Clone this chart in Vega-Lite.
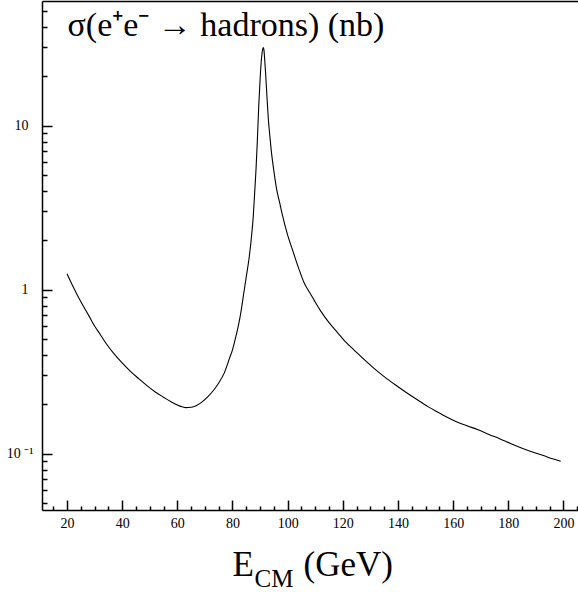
{
  "$schema": "https://vega.github.io/schema/vega-lite/v6.json",
  "width": 536,
  "height": 509,
  "autosize": {"type": "none"},
  "padding": {"left": 42, "top": 1, "right": 0, "bottom": 82},
  "background": "white",
  "config": {
    "font": "Liberation Serif",
    "view": {"stroke": null},
    "axis": {
      "grid": false,
      "domainColor": "black",
      "domainWidth": 1.5,
      "tickColor": "black",
      "tickWidth": 1.5,
      "labelFont": "Liberation Serif",
      "labelFontSize": 14,
      "labelColor": "black",
      "labelFlush": false,
      "labelOverlap": false,
      "titleFont": "Liberation Serif",
      "titleFontWeight": "normal",
      "titleColor": "black"
    }
  },
  "data": {
    "values": [
      {"E": 20, "s": 1.25}, {"E": 22, "s": 1.06}, {"E": 24, "s": 0.91}, {"E": 26, "s": 0.79},
      {"E": 28, "s": 0.69}, {"E": 30, "s": 0.6}, {"E": 32, "s": 0.535}, {"E": 34, "s": 0.475},
      {"E": 37, "s": 0.408}, {"E": 40, "s": 0.358}, {"E": 43, "s": 0.318}, {"E": 46, "s": 0.287},
      {"E": 49, "s": 0.26}, {"E": 52, "s": 0.238}, {"E": 55, "s": 0.221}, {"E": 58, "s": 0.206},
      {"E": 61, "s": 0.195}, {"E": 63, "s": 0.191}, {"E": 65, "s": 0.192}, {"E": 67, "s": 0.197},
      {"E": 69, "s": 0.207}, {"E": 71, "s": 0.222}, {"E": 73, "s": 0.242}, {"E": 75, "s": 0.27},
      {"E": 77, "s": 0.31}, {"E": 79, "s": 0.385}, {"E": 80, "s": 0.43}, {"E": 81, "s": 0.5},
      {"E": 82, "s": 0.59}, {"E": 83, "s": 0.72}, {"E": 84, "s": 0.93}, {"E": 85, "s": 1.2},
      {"E": 86, "s": 1.55}, {"E": 87, "s": 2.2}, {"E": 87.5, "s": 2.75}, {"E": 88, "s": 3.8},
      {"E": 88.5, "s": 5.3}, {"E": 89, "s": 8}, {"E": 89.5, "s": 13}, {"E": 90, "s": 19},
      {"E": 90.5, "s": 25.5}, {"E": 91, "s": 29.5}, {"E": 91.2, "s": 30}, {"E": 91.4, "s": 29},
      {"E": 91.7, "s": 25}, {"E": 92, "s": 21}, {"E": 92.5, "s": 15}, {"E": 93, "s": 11},
      {"E": 93.5, "s": 8.8}, {"E": 94, "s": 7.2}, {"E": 95, "s": 5.3}, {"E": 96, "s": 4.1},
      {"E": 97, "s": 3.45}, {"E": 98, "s": 2.9}, {"E": 100, "s": 2.15}, {"E": 102, "s": 1.7},
      {"E": 104, "s": 1.35}, {"E": 106, "s": 1.1}, {"E": 108, "s": 0.96}, {"E": 110, "s": 0.84},
      {"E": 112, "s": 0.74}, {"E": 115, "s": 0.63}, {"E": 118, "s": 0.55}, {"E": 121, "s": 0.48},
      {"E": 124, "s": 0.43}, {"E": 127, "s": 0.385}, {"E": 131, "s": 0.335}, {"E": 135, "s": 0.295},
      {"E": 139, "s": 0.263}, {"E": 143, "s": 0.236}, {"E": 147, "s": 0.213}, {"E": 151, "s": 0.193},
      {"E": 155, "s": 0.177}, {"E": 158, "s": 0.166}, {"E": 161, "s": 0.157}, {"E": 165, "s": 0.148},
      {"E": 169, "s": 0.14}, {"E": 173, "s": 0.131}, {"E": 177, "s": 0.123}, {"E": 181, "s": 0.115},
      {"E": 185, "s": 0.108}, {"E": 189, "s": 0.102}, {"E": 193, "s": 0.097}, {"E": 196, "s": 0.093},
      {"E": 199, "s": 0.09}
    ]
  },
  "resolve": {"axis": {"x": "independent", "y": "independent"}},
  "layer": [
    {
      "mark": {"type": "line", "color": "black", "strokeWidth": 1.1, "interpolate": "monotone"},
      "encoding": {
        "x": {
          "field": "E", "type": "quantitative",
          "scale": {"domain": [10.935, 205.27], "nice": false, "zero": false},
          "axis": {
            "orient": "bottom",
            "values": [20, 40, 60, 80, 100, 120, 140, 160, 180, 200],
            "tickSize": -10,
            "labelPadding": 16,
            "title": "E",
            "titleFontSize": 35,
            "titleX": 190,
            "titleY": 65,
            "titleAlign": "left",
            "titleBaseline": "alphabetic"
          }
        },
        "y": {
          "field": "s", "type": "quantitative",
          "scale": {"type": "log", "domain": [0.04535, 57.6], "nice": false},
          "axis": {
            "orient": "left",
            "values": [1, 10],
            "tickSize": -10,
            "labelPadding": 24,
            "labelExpr": "datum.value >= 5 ? '10' : '1'",
            "title": null
          }
        }
      }
    },
    {
      "mark": {"type": "line", "opacity": 0},
      "encoding": {
        "x": {
          "field": "E", "type": "quantitative",
          "scale": {"domain": [10.935, 205.27], "nice": false, "zero": false},
          "axis": {
            "orient": "bottom",
            "values": [15, 25, 30, 35, 45, 50, 55, 65, 70, 75, 85, 90, 95, 105, 110, 115, 125, 130, 135, 145, 150, 155, 165, 170, 175, 185, 190, 195, 205],
            "tickSize": -4,
            "labels": false,
            "domain": false,
            "title": "CM",
            "titleFontSize": 25,
            "titleX": 212,
            "titleY": 76.7,
            "titleAlign": "left",
            "titleBaseline": "alphabetic"
          }
        },
        "y": {
          "field": "s", "type": "quantitative",
          "scale": {"type": "log", "domain": [0.04535, 57.6], "nice": false},
          "axis": {
            "orient": "left",
            "values": [0.05, 0.06, 0.07, 0.08, 0.09, 0.2, 0.3, 0.4, 0.5, 0.6, 0.7, 0.8, 0.9, 2, 3, 4, 5, 6, 7, 8, 9, 20, 30, 40, 50],
            "tickSize": -5,
            "labels": false,
            "domain": false,
            "title": null
          }
        }
      }
    },
    {
      "mark": {"type": "line", "opacity": 0},
      "encoding": {
        "x": {
          "field": "E", "type": "quantitative",
          "scale": {"domain": [10.935, 205.27], "nice": false, "zero": false},
          "axis": {
            "orient": "top",
            "ticks": false,
            "labels": false,
            "domain": true,
            "title": "(GeV)",
            "titleFontSize": 35,
            "titleX": 261,
            "titleY": 574,
            "titleAlign": "left",
            "titleBaseline": "alphabetic"
          }
        },
        "y": {
          "field": "s", "type": "quantitative",
          "scale": {"type": "log", "domain": [0.04535, 57.6], "nice": false},
          "axis": {
            "orient": "left",
            "values": [0.1],
            "tickSize": -10,
            "labelPadding": 19,
            "labelExpr": "'10 ⁻¹'",
            "domain": false,
            "title": null
          }
        }
      }
    },
    {
      "mark": {"type": "line", "opacity": 0},
      "encoding": {
        "x": {
          "field": "E", "type": "quantitative",
          "scale": {"domain": [10.935, 205.27], "nice": false, "zero": false},
          "axis": {
            "orient": "top",
            "ticks": false,
            "labels": false,
            "domain": false,
            "title": "σ(e⁺e⁻ → hadrons) (nb)",
            "titleFontSize": 34,
            "titleX": 25,
            "titleY": 34,
            "titleAlign": "left",
            "titleBaseline": "alphabetic"
          }
        },
        "y": {
          "field": "s", "type": "quantitative",
          "scale": {"type": "log", "domain": [0.04535, 57.6], "nice": false},
          "axis": null
        }
      }
    }
  ]
}
